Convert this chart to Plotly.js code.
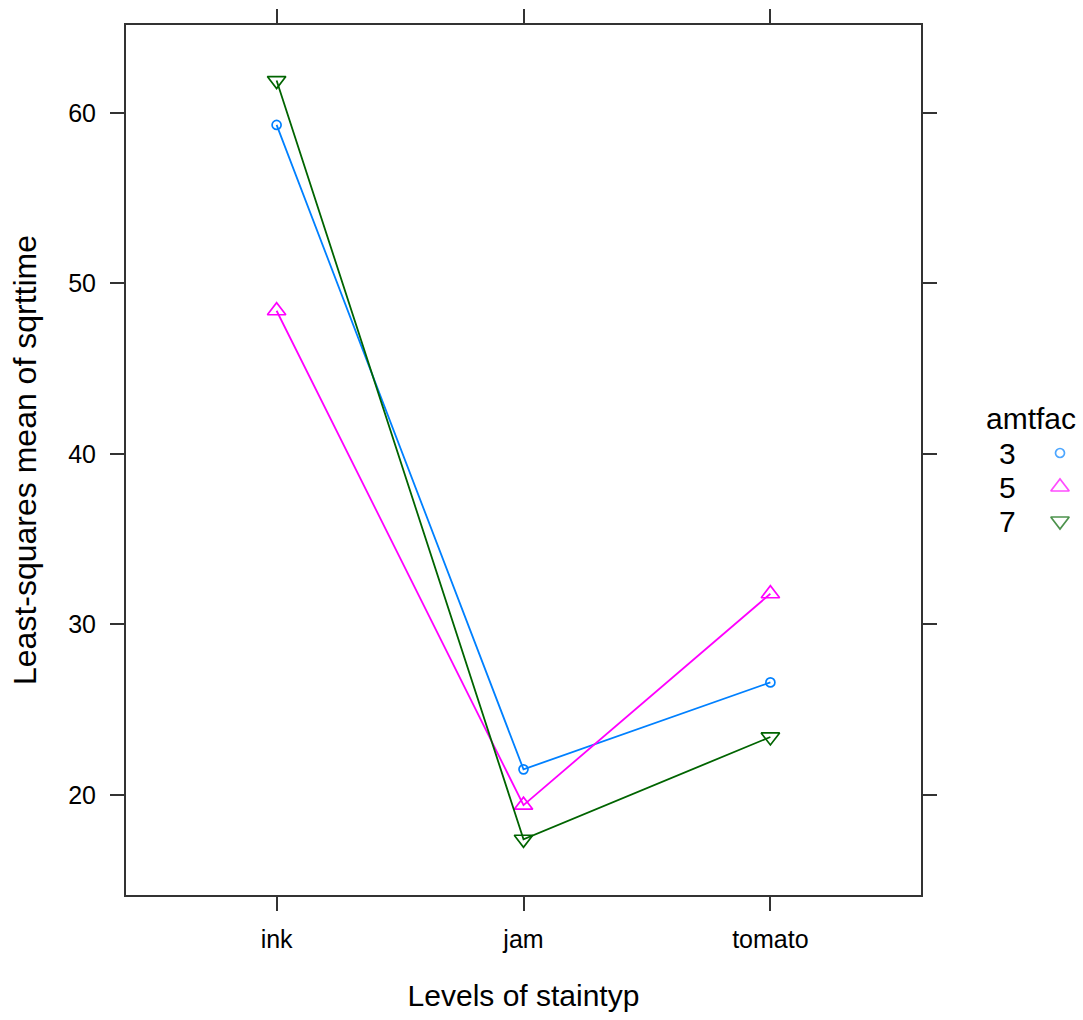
<!DOCTYPE html>
<html>
<head>
<meta charset="utf-8">
<script src="https://cdn.plot.ly/plotly-3.0.1.min.js"></script>
<style>html,body{margin:0;padding:0;background:#fff;}#chart{width:1083px;height:1020px;}</style>
</head>
<body>
<div id="chart"></div>
<script>
// Data
const staintyp = ["ink", "jam", "tomato"];
const amtfacLevels = ["3", "5", "7"];
const lsmean3 = [59.3, 21.5, 26.6];
const lsmean5 = [48.4, 19.4, 31.8];
const lsmean7 = [61.9, 17.4, 23.4];
const yTicks = [20, 30, 40, 50, 60];

const series = [lsmean3, lsmean5, lsmean7];
const colors = ["#0080ff", "#ff00ff", "#006400"];
const symbols = ["circle-open", "triangle-up-open", "triangle-down-open"];
const sizes = [9, 16, 16];

const FONT = "Liberation Sans, Arial, sans-serif";
const frameColor = "#333333";

// plot area geometry (pixels)
const W = 1083, H = 1020;
const L = 126, R = 921, T = 25, B = 895;

const traces = series.map((vals, i) => ({
  type: "scatter",
  mode: "lines+markers",
  x: staintyp,
  y: vals,
  name: amtfacLevels[i],
  line: {color: colors[i], width: 1.8},
  marker: {symbol: symbols[i], size: sizes[i], color: colors[i], line: {color: colors[i], width: 1.7}},
  showlegend: false,
  hoverinfo: "x+y+name"
}));

// key panel (right of the plot) in pixel units
const keyX = 1060, keyTextX = 1007, keyY0 = 453, keyDy = 34;
traces.push({
  type: "scatter",
  mode: "markers",
  xaxis: "x2",
  yaxis: "y2",
  x: amtfacLevels.map(() => keyX),
  y: amtfacLevels.map((_, i) => keyY0 + i * keyDy),
  marker: {symbol: symbols, size: sizes, color: colors, line: {color: colors, width: 1.7}},
  showlegend: false,
  hoverinfo: "skip"
});

const annotations = [{
  xref: "x2", yref: "y2", x: 1031, y: 418, text: "amtfac",
  showarrow: false, xanchor: "center", yanchor: "middle",
  font: {family: FONT, size: 30, color: "#000"}
}];
amtfacLevels.forEach((lv, i) => annotations.push({
  xref: "x2", yref: "y2", x: keyTextX, y: keyY0 + i * keyDy, text: lv,
  showarrow: false, xanchor: "center", yanchor: "middle",
  font: {family: FONT, size: 30, color: "#000"}
}));

const plotW = W - L;
const layout = {
  width: W, height: H,
  margin: {l: L, r: 0, t: T, b: H - B, pad: 0},
  paper_bgcolor: "#fff", plot_bgcolor: "rgba(0,0,0,0)",
  showlegend: false,
  font: {family: FONT, color: "#000"},
  xaxis: {
    domain: [0, (R - L) / plotW],
    anchor: "y",
    type: "category",
    categoryarray: staintyp,
    range: [-0.61, 2.61],
    showgrid: false, zeroline: false,
    showline: true, linecolor: frameColor, linewidth: 2, mirror: "ticks",
    ticks: "outside", ticklen: 14, tickwidth: 2, tickcolor: frameColor,
    tickfont: {family: FONT, size: 25, color: "#000"},
    ticklabelstandoff: 7,
    title: {text: "Levels of staintyp", font: {family: FONT, size: 30, color: "#000"}, standoff: 33}
  },
  yaxis: {
    anchor: "x",
    range: [14.13, 65.16],
    tickvals: yTicks,
    ticktext: yTicks.map(String),
    showgrid: false, zeroline: false,
    showline: true, linecolor: frameColor, linewidth: 2, mirror: "ticks",
    ticks: "outside", ticklen: 14, tickwidth: 2, tickcolor: frameColor,
    tickfont: {family: FONT, size: 25, color: "#000"},
    ticklabelstandoff: 9,
    title: {text: "Least-squares mean of sqrttime", font: {family: FONT, size: 32, color: "#000"}, standoff: 22}
  },
  xaxis2: {domain: [(R - L) / plotW, 1], anchor: "y2", range: [R, W], visible: false, fixedrange: true},
  yaxis2: {domain: [0, 1], anchor: "x2", range: [B, T], visible: false, fixedrange: true},
  annotations: annotations
};

Plotly.newPlot("chart", traces, layout, {displayModeBar: false, staticPlot: true});
</script>
</body>
</html>
